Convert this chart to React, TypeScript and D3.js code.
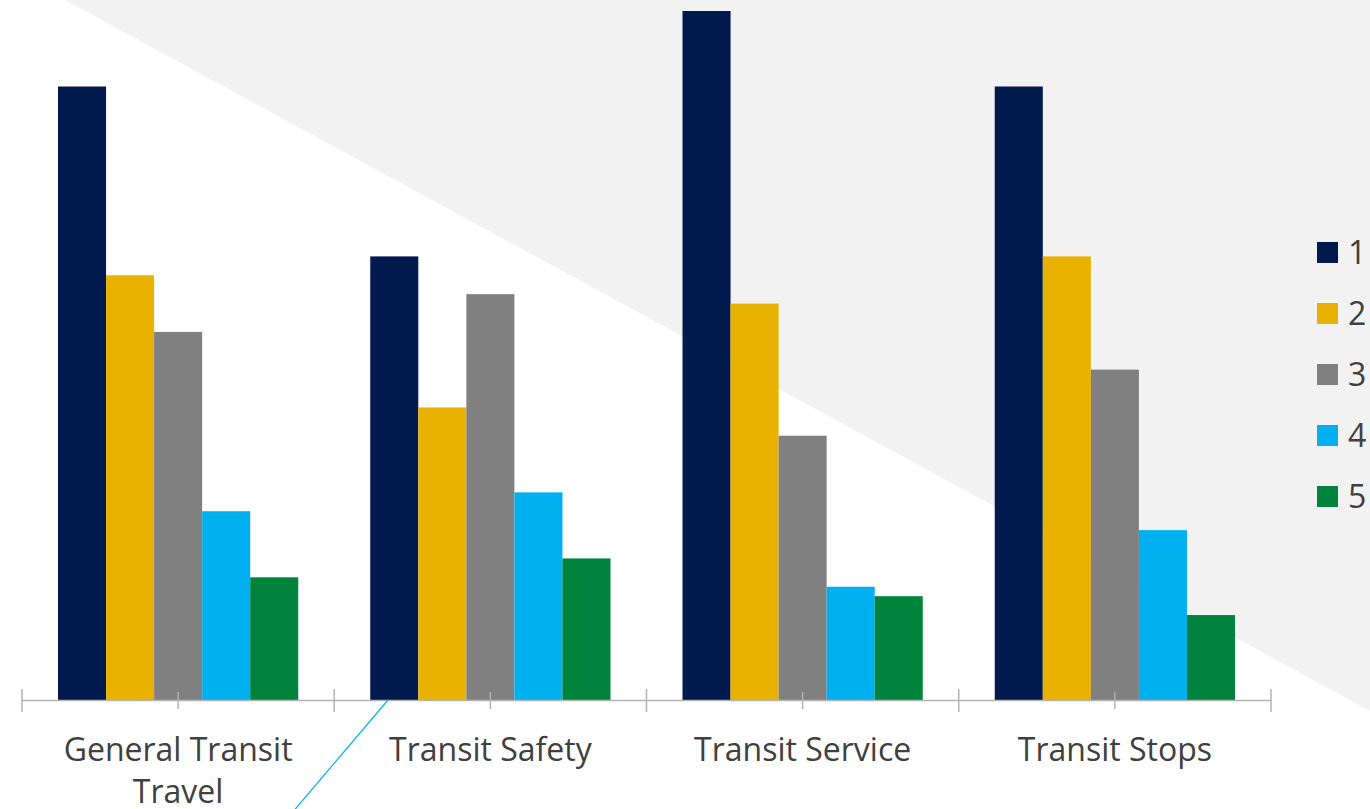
import React from "react";
import * as d3 from "d3";

const categories = [["General Transit", "Travel"], ["Transit Safety"], ["Transit Service"], ["Transit Stops"]];
const seriesNames = ["1", "2", "3", "4", "5"];
const seriesColors = ["#001A4E", "#EAB200", "#808080", "#00B0F0", "#00843D"];
// values[series][category]
const values = [
  [65, 47, 73, 65],
  [45, 31, 42, 47],
  [39, 43, 28, 35],
  [20, 22, 12, 18],
  [13, 15, 11, 9],
];

const W = 1370;
const H = 809;

export default function App() {
  const x0 = d3.scaleBand<number>().domain(categories.map((_, i) => i)).range([22, 1271]).paddingInner(0).paddingOuter(0);
  const x1 = d3.scaleBand<number>().domain(seriesNames.map((_, i) => i)).range([36, x0.bandwidth() - 36]);
  const y = d3.scaleLinear().domain([0, 73]).range([700, 11]);
  const font = "'Open Sans', 'Noto Sans', sans-serif";
  const textColor = "#404040";

  return (
    <svg width={W} height={H} style={{ position: "absolute", left: 0, top: 0, background: "#fff" }}>
      <polygon points={`65,0 ${W},0 ${W},711`} fill="#F2F2F2" />
      {values.map((ser, s) =>
        ser.map((v, c) => (
          <rect
            key={`${s}-${c}`}
            x={(x0(c) as number) + (x1(s) as number)}
            y={y(v)}
            width={x1.bandwidth()}
            height={y(0) - y(v)}
            fill={seriesColors[s]}
          />
        ))
      )}
      <line x1={22} x2={1271} y1={700.5} y2={700.5} stroke="#B3B3B3" strokeWidth={1.5} />
      {d3.range(categories.length + 1).map((i) => {
        const xx = 22 + i * x0.bandwidth();
        return <line key={`t${i}`} x1={xx} x2={xx} y1={689} y2={712} stroke="#B3B3B3" strokeWidth={1.5} />;
      })}
      {categories.map((_, i) => {
        const xx = (x0(i) as number) + x0.bandwidth() / 2;
        return <line key={`m${i}`} x1={xx} x2={xx} y1={692} y2={709} stroke="#B3B3B3" strokeWidth={1.5} />;
      })}
      <line x1={388} y1={700} x2={388 - 91 * 1.2} y2={700 + 107 * 1.2} stroke="#00B0F0" strokeWidth={1.2} />
      {categories.map((lines, i) => (
        <text
          key={`c${i}`}
          x={(x0(i) as number) + x0.bandwidth() / 2}
          y={761}
          textAnchor="middle"
          fontFamily={font}
          fontSize={32}
          fill={textColor}
        >
          {lines.map((l, j) => (
            <tspan key={j} x={(x0(i) as number) + x0.bandwidth() / 2} dy={j === 0 ? 0 : 42}>
              {l}
            </tspan>
          ))}
        </text>
      ))}
      {seriesNames.map((n, s) => (
        <g key={`l${s}`} transform={`translate(1317, ${242 + s * 61})`}>
          <rect width={21} height={21} fill={seriesColors[s]} />
          <text x={31} y={21.5} fontFamily={font} fontSize={32} fill={textColor}>
            {n}
          </text>
        </g>
      ))}
    </svg>
  );
}
